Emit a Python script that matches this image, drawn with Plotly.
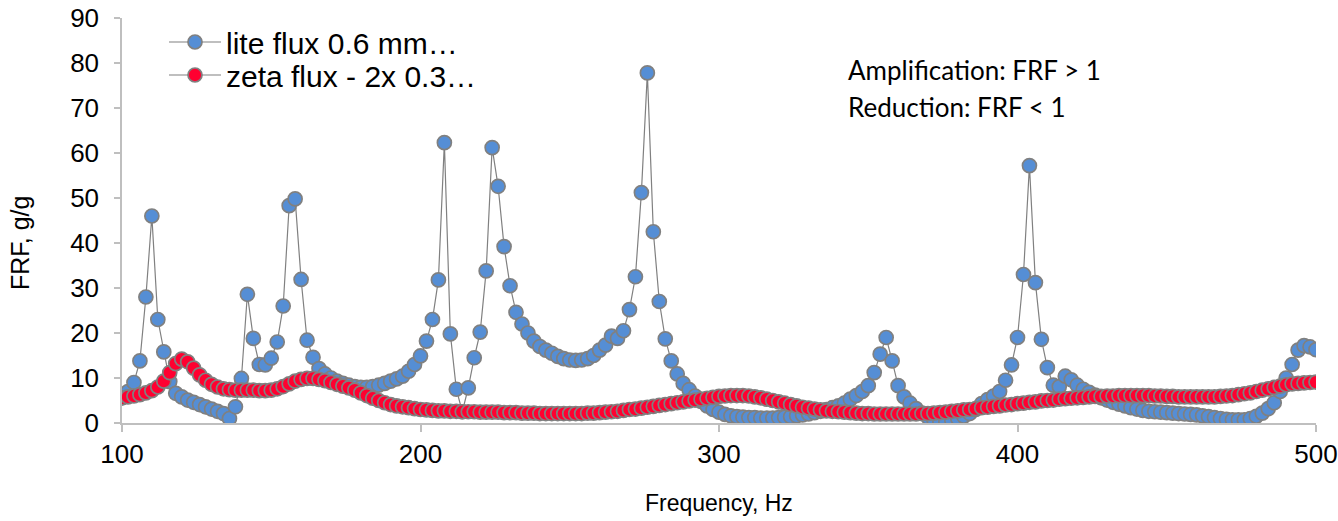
import plotly.graph_objects as go

freq = list(range(100, 501, 2))

lite_flux = [
    5.6, 7.0, 9.0, 13.8, 28.0, 46.0, 23.0, 15.8, 9.2, 6.6,        # 100-118
    5.8, 5.1, 4.6, 4.1, 3.6, 3.1, 2.6, 2.1, 1.0, 3.6,             # 120-138
    9.9, 28.6, 18.8, 13.0, 12.9, 14.4, 18.0, 26.0, 48.3, 49.8,    # 140-158
    31.9, 18.4, 14.6, 12.1, 10.9, 10.0, 9.3, 8.8, 8.4, 8.1,       # 160-178
    7.9, 7.9, 8.1, 8.4, 8.8, 9.3, 9.8, 10.4, 11.5, 13.0,          # 180-198
    14.9, 18.2, 23.0, 31.8, 62.3, 19.8, 7.5, 2.5, 7.8, 14.5,      # 200-218
    20.2, 33.8, 61.2, 52.6, 39.2, 30.5, 24.6, 22.0, 20.0, 18.2,   # 220-238
    17.0, 16.2, 15.5, 14.8, 14.3, 14.0, 13.9, 14.0, 14.3, 15.0,   # 240-258
    16.2, 17.3, 19.3, 18.8, 20.5, 25.2, 32.5, 51.2, 77.8, 42.5,   # 260-278
    27.0, 18.7, 13.8, 10.9, 8.8, 7.4, 6.0, 4.8, 3.8, 3.0,         # 280-298
    2.4, 1.9, 1.6, 1.4, 1.3, 1.2, 1.2, 1.1, 1.1, 1.1,             # 300-318
    1.2, 1.3, 1.4, 1.6, 1.8, 2.0, 2.3, 2.6, 3.0, 3.4,             # 320-338
    3.8, 4.4, 5.3, 6.1, 7.0, 8.3, 11.2, 15.3, 19.0, 13.8,         # 340-358
    8.3, 5.8, 4.4, 3.2, 2.2, 1.3, 0.7, 0.4, 0.4, 0.6,             # 360-378
    1.0, 1.5, 2.1, 3.0, 4.3, 5.2, 6.0, 7.0, 9.5, 12.9,            # 380-398
    19.0, 33.0, 57.2, 31.2, 18.6, 12.3, 8.4, 8.1, 10.4, 9.6,      # 400-418
    8.4, 7.5, 6.8, 6.2, 5.6, 5.1, 4.6, 4.2, 3.8, 3.4,             # 420-438
    3.1, 2.8, 2.6, 2.5, 2.4, 2.3, 2.2, 2.1, 2.0, 1.9,             # 440-458
    1.8, 1.6, 1.4, 1.2, 1.0, 0.8, 0.7, 0.7, 0.7, 1.0,             # 460-478
    1.5, 2.2, 3.2, 4.5, 7.0, 10.0, 13.0, 16.2, 17.2, 16.9,        # 480-498
    16.3,                                                         # 500
]

zeta_flux = [
    5.6, 5.8, 6.0, 6.3, 6.7, 7.2, 8.0, 9.3, 11.2, 13.2,           # 100-118
    14.2, 13.6, 12.2, 10.7, 9.5, 8.6, 8.0, 7.6, 7.4, 7.3,         # 120-138
    7.3, 7.3, 7.3, 7.2, 7.2, 7.3, 7.6, 8.1, 8.7, 9.3,             # 140-158
    9.7, 9.9, 9.9, 9.7, 9.4, 9.0, 8.6, 8.2, 7.8, 7.3,             # 160-178
    6.7, 6.1, 5.5, 5.0, 4.5, 4.1, 3.8, 3.6, 3.4, 3.2,             # 180-198
    3.0, 2.9, 2.8, 2.7, 2.7, 2.6, 2.6, 2.5, 2.5, 2.5,             # 200-218
    2.4, 2.4, 2.4, 2.4, 2.3, 2.3, 2.3, 2.2, 2.2, 2.2,             # 220-238
    2.1, 2.1, 2.1, 2.1, 2.1, 2.1, 2.1, 2.1, 2.2, 2.2,             # 240-258
    2.3, 2.4, 2.5, 2.6, 2.8, 3.0, 3.1, 3.3, 3.5, 3.7,             # 260-278
    3.9, 4.1, 4.3, 4.5, 4.7, 4.9, 5.1, 5.3, 5.5, 5.7,             # 280-298
    5.9, 6.0, 6.1, 6.1, 6.1, 6.0, 5.8, 5.6, 5.3, 5.0,             # 300-318
    4.7, 4.4, 4.1, 3.8, 3.5, 3.3, 3.1, 2.9, 2.7, 2.6,             # 320-338
    2.5, 2.4, 2.3, 2.2, 2.1, 2.1, 2.0, 2.0, 2.0, 2.0,             # 340-358
    2.0, 2.0, 2.0, 2.0, 2.1, 2.1, 2.2, 2.3, 2.4, 2.6,             # 360-378
    2.7, 2.9, 3.0, 3.2, 3.4, 3.5, 3.7, 3.8, 4.0, 4.1,             # 380-398
    4.3, 4.4, 4.6, 4.7, 4.9, 5.0, 5.1, 5.3, 5.4, 5.5,             # 400-418
    5.6, 5.7, 5.8, 5.9, 5.9, 6.0, 6.0, 6.1, 6.1, 6.1,             # 420-438
    6.1, 6.1, 6.1, 6.0, 6.0, 5.9, 5.9, 5.8, 5.8, 5.8,             # 440-458
    5.8, 5.8, 5.8, 5.8, 5.9, 6.0, 6.1, 6.3, 6.5, 6.7,             # 460-478
    7.0, 7.3, 7.6, 7.9, 8.2, 8.5, 8.7, 8.8, 8.9, 9.0,             # 480-498
    9.1,                                                          # 500
]

series_names = ["lite flux 0.6 mm\u2026", "zeta flux - 2x 0.3\u2026"]
series_colors = ["#558ED5", "#FF0030"]
x_title = "Frequency, Hz"
y_title = "FRF, g/g"
notes = ["Amplification: FRF > 1", "Reduction: FRF < 1"]

W, H = 1338, 521
L, R, T, B = 122, 22, 18, 98
pw, ph = W - L - R, H - T - B


def px(sx):
    return (sx - L) / pw


def py(sy):
    return (H - B - sy) / ph


fig = go.Figure()
legend_ids = ["legend", "legend2"]
for name, vals, col, lg in zip(series_names, [lite_flux, zeta_flux], series_colors, legend_ids):
    fig.add_trace(go.Scatter(
        x=freq, y=vals, name=name, mode="lines+markers", legend=lg,
        line=dict(color="#808080", width=1.2),
        marker=dict(size=14, color=col, line=dict(color="#808080", width=1.7)),
    ))

axis_col = "#BFBFBF"
FONT = "Liberation Sans, Arial, sans-serif"
leg_common = dict(xanchor="left", yanchor="middle", bgcolor="rgba(0,0,0,0)",
                  font=dict(family=FONT, size=30), itemwidth=52, borderwidth=0)
fig.update_layout(
    width=W, height=H,
    margin=dict(l=L, r=R, t=T, b=B, autoexpand=False),
    paper_bgcolor="white", plot_bgcolor="white",
    font=dict(family=FONT, size=25, color="black"),
    showlegend=True,
    legend=dict(x=px(164), y=py(42), **leg_common),
    legend2=dict(x=px(164), y=py(75), **leg_common),
    xaxis=dict(range=[100, 500], dtick=100, tick0=100, showgrid=False, zeroline=False,
               showline=True, linecolor=axis_col, linewidth=1.5,
               ticks="outside", ticklen=7, tickcolor=axis_col, tickwidth=1.5,
               ticklabelstandoff=0, tickfont=dict(size=26)),
    yaxis=dict(range=[0, 90], dtick=10, tick0=0, showgrid=False, zeroline=False,
               showline=True, linecolor=axis_col, linewidth=1.5,
               ticks="outside", ticklen=6, tickcolor=axis_col, tickwidth=1.5,
               ticklabelstandoff=10, tickfont=dict(size=26)),
)

fig.add_annotation(text=x_title, xref="paper", yref="paper", x=px(719), y=py(503),
                   showarrow=False, xanchor="center", yanchor="middle", font=dict(size=23))
fig.add_annotation(text=y_title, xref="paper", yref="paper", x=px(20), y=py(243),
                   showarrow=False, xanchor="center", yanchor="middle", textangle=-90,
                   font=dict(size=25))
for txt, sy in zip(notes, [70, 107]):
    fig.add_annotation(text=txt, xref="paper", yref="paper", x=px(846), y=py(sy),
                       showarrow=False, xanchor="left", yanchor="middle",
                       font=dict(family="Lato, Open Sans, sans-serif", size=26))

# remove the browser's default 8px page margin so the figure fills the window
fig.write_html("out.html", config={"displayModeBar": False},
               post_script="document.body.style.margin='0';")
